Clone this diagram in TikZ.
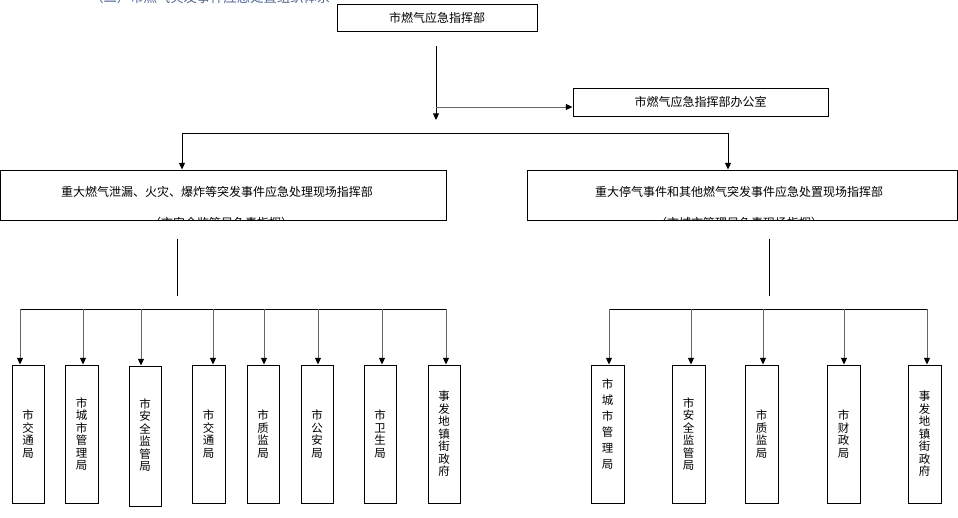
\documentclass[tikz,border=0pt]{standalone}
\usepackage{fontspec}
\setmainfont{Noto Sans CJK SC}
\usetikzlibrary{arrows.meta,fit}
\definecolor{titlecol}{RGB}{80,100,150}
\tikzset{
  box/.style={draw, line width=0.75pt, inner sep=0pt},
  lbl/.style={font=\fontsize{9}{9.4}\selectfont, inner sep=0pt, align=center},
  vlbl/.style={font=\fontsize{8.6}{9.4}\selectfont, inner sep=0pt, align=center},
  conn/.style={line width=0.75pt},
  arr/.style={conn, -{Triangle[length=5pt,width=4.5pt]}},
  drop/.style={line width=0.75pt, draw=black!60, -{Triangle[length=5pt,width=4.5pt,color=black]}},
}
\begin{document}
\begin{tikzpicture}[x=0.75pt,y=-0.75pt]
\useasboundingbox (0,0) rectangle (958,518);
% title, cut off at the top edge as in the reference
\node[anchor=base west, inner sep=0pt, font=\fontsize{10}{10}\selectfont, text=titlecol] (title) at (90,2) {（二）市燃气突发事件应急处置组织体系};

% top boxes
\node[box, fit={(337,4) (537,31)}] (top) {};
\node[lbl] at (top.center) {市燃气应急指挥部};
\node[box, fit={(573,88) (828,116)}] (office) {};
\node[lbl] at (office.center) {市燃气应急指挥部办公室};

\coordinate (m1) at (436,46);
\coordinate (m2) at (436,120);
\coordinate (j1) at (436,107);
\draw[arr] (m1) -- (m2);
\draw[drop] (j1) -- (j1 -| office.west);

% second level
\node[box, fit={(0.5,170) (446,220)}] (L) {};
\node[box, fit={(527,170) (957,220)}] (R) {};
\node[lbl] (Lt) at (217,192) {重大燃气泄漏、火灾、爆炸等突发事件应急处理现场指挥部};
\node[lbl] (Rt) at (739,192) {重大停气事件和其他燃气突发事件应急处置现场指挥部};
\begin{scope}
  \clip (2,205) rectangle (444,219.2);
  \node[lbl] (Ls) at (221,223) {（市安全监管局负责指挥）};
\end{scope}
\begin{scope}
  \clip (529,205) rectangle (955,219.2);
  \node[lbl] (Rs) at (739,223) {（市城市管理局负责现场指挥）};
\end{scope}

\coordinate (b1) at (182,133);
\coordinate (b2) at (728,133);
\draw[conn] (b1) -- (b2);
\draw[arr] (b1) -- (b1 |- L.north);
\draw[arr] (b2) -- (b2 |- R.north);

% stubs below second level
\coordinate (s1) at (177,239);
\coordinate (s2) at (177,296);
\coordinate (s3) at (769,239);
\coordinate (s4) at (769,296);
\draw[conn] (s1) -- (s2);
\draw[conn] (s3) -- (s4);

% left bus
\coordinate (lb1) at (20,309);
\coordinate (lb8) at (446,309);
\draw[conn] (lb1) -- (lb8);

% left leaves
\node[box, fit={(12,365) (44,503)}] (a1) {};
\node[box, fit={(65,365) (98,503)}] (a2) {};
\node[box, fit={(129,366) (161,506)}] (a3) {};
\node[box, fit={(192,365) (225,503)}] (a4) {};
\node[box, fit={(247,365) (279,503)}] (a5) {};
\node[box, fit={(301,365) (333,503)}] (a6) {};
\node[box, fit={(364,365) (396,503)}] (a7) {};
\node[box, fit={(428,365) (460,503)}] (a8) {};
\node[vlbl] at (a1.center) {市\\交\\通\\局};
\node[vlbl] at (81.5,434) {市\\城\\市\\管\\理\\局};
\node[vlbl] at (145,435) {市\\安\\全\\监\\管\\局};
\node[vlbl] at (a4.center) {市\\交\\通\\局};
\node[vlbl] at (a5.center) {市\\质\\监\\局};
\node[vlbl] at (a6.center) {市\\公\\安\\局};
\node[vlbl] at (a7.center) {市\\卫\\生\\局};
\node[vlbl] at (a8.center) {事\\发\\地\\镇\\街\\政\\府};

\foreach \x/\n in {20/a1,83/a2,141/a3,213/a4,264/a5,318/a6,382/a7,446/a8}{
  \coordinate (d) at (\x,309);
  \draw[drop] (d) -- (d |- \n.north);
}

% right bus
\coordinate (rb1) at (609,309);
\coordinate (rb5) at (927,309);
\draw[conn] (rb1) -- (rb5);

\node[box, fit={(591,365) (624,503)}] (c1) {};
\node[box, fit={(672,365) (705,503)}] (c2) {};
\node[box, fit={(745,365) (778,503)}] (c3) {};
\node[box, fit={(827,365) (860,503)}] (c4) {};
\node[box, fit={(908,365) (941,503)}] (c5) {};
\node[vlbl, font=\fontsize{8.6}{12}\selectfont] at (607.5,424) {市\\城\\市\\管\\理\\局};
\node[vlbl] at (688.5,434) {市\\安\\全\\监\\管\\局};
\node[vlbl] at (c3.center) {市\\质\\监\\局};
\node[vlbl] at (c4.center) {市\\财\\政\\局};
\node[vlbl] at (c5.center) {事\\发\\地\\镇\\街\\政\\府};

\foreach \x/\n in {609/c1,691/c2,763/c3,844/c4,927/c5}{
  \coordinate (d) at (\x,309);
  \draw[drop] (d) -- (d |- \n.north);
}
\end{tikzpicture}
\end{document}
